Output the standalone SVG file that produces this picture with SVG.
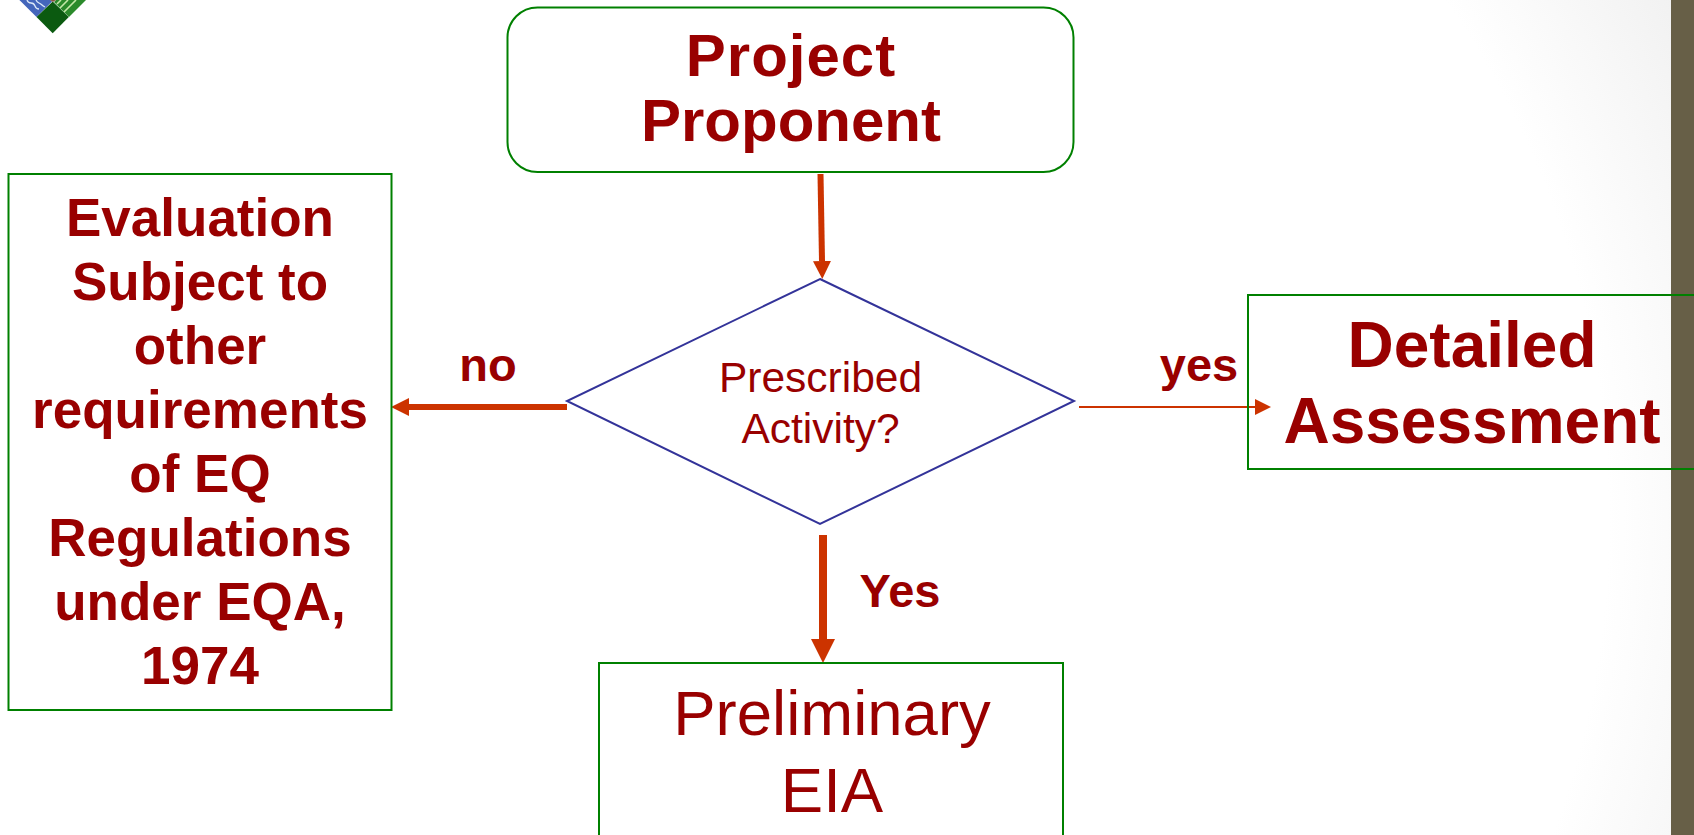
<svg xmlns="http://www.w3.org/2000/svg" width="1694" height="835" viewBox="0 0 1694 835">
<style>
.box{fill:none;stroke:#008000;stroke-width:2}
.t{font-family:"Liberation Sans",Arial,sans-serif;fill:#990000;text-anchor:middle}
.b{font-weight:bold}
.c{fill:none;stroke:#cc3300}
.wave{fill:none;stroke:#dbe8f7;stroke-width:1.3}
.stripe{stroke:#c5e8a8;stroke-width:1.6}
</style>
<defs>
<radialGradient id="bg" gradientUnits="userSpaceOnUse" cx="700" cy="520" r="1150">
<stop offset="0" stop-color="#ffffff"/><stop offset="0.79" stop-color="#ffffff"/><stop offset="1" stop-color="#eeeeee"/>
</radialGradient>
<marker id="head" viewBox="0 0 3 3" refX="0" refY="1.5" markerWidth="3" markerHeight="3" orient="auto"><path d="M0 0L3 1.5L0 3z" fill="#cc3300"/></marker>
<marker id="headThin" viewBox="0 0 8 8" refX="0" refY="4" markerWidth="8" markerHeight="8" orient="auto"><path d="M0 0L8 4L0 8z" fill="#cc3300"/></marker>
</defs>
<rect width="1694" height="835" fill="url(#bg)"/>
<rect x="1671" y="0" width="23" height="835" fill="#675f47"/>
<g id="logo">
<polygon points="19.400,0 36.500,17 52,1.500 50.500,0" fill="#4466bb"/>
<path class="wave" d="M27 0q1 3 4 3t4 3t4 3M36 0q1 2 3 3t3 2t3 2"/>
<polygon points="86,0 69,17 54,2 56,0" fill="#2b8a2b"/>
<path class="stripe" d="M57 4L61 0M60 8L68 0M64 12L76 0"/>
<polygon points="52.700,33.300 36.500,17 52.700,1.500 68.800,17" fill="#0b5a10"/>
<polygon points="50,0 56,0 53,2" fill="#8a5a40"/>
</g>
<g id="connectors">
<line class="c" x1="820.500" y1="174" x2="822" y2="261" stroke-width="6" marker-end="url(#head)"/>
<line class="c" x1="567" y1="407" x2="409" y2="407" stroke-width="6" marker-end="url(#head)"/>
<line class="c" x1="1079" y1="407" x2="1255" y2="407" stroke-width="2" marker-end="url(#headThin)"/>
<line class="c" x1="823" y1="535" x2="823" y2="639" stroke-width="8" marker-end="url(#head)"/>
</g>
<g id="project-proponent">
<rect class="box" x="507.500" y="7.500" width="566" height="164.500" rx="30" ry="30"/>
<text class="t b" x="791" y="76" font-size="60" letter-spacing="1">Project</text>
<text class="t b" x="791" y="141" font-size="60">Proponent</text>
</g>
<g id="evaluation">
<rect class="box" x="8.500" y="174" width="383" height="536"/>
<text class="t b" x="200" y="236" font-size="53">Evaluation</text>
<text class="t b" x="200" y="300" font-size="53">Subject to</text>
<text class="t b" x="200" y="364" font-size="53">other</text>
<text class="t b" x="200" y="428" font-size="53">requirements</text>
<text class="t b" x="200" y="492" font-size="53">of EQ</text>
<text class="t b" x="200" y="556" font-size="53">Regulations</text>
<text class="t b" x="200" y="620" font-size="53">under EQA,</text>
<text class="t b" x="200" y="684" font-size="53">1974</text>
</g>
<g id="decision">
<polygon points="820,279 1074,401 820,524 567,401" fill="none" stroke="#333399" stroke-width="2"/>
<text class="t" x="820.500" y="392" font-size="42.500">Prescribed</text>
<text class="t" x="820.500" y="443" font-size="42.500">Activity?</text>
</g>
<g id="detailed-assessment">
<rect class="box" x="1248" y="295" width="460" height="174"/>
<text class="t b" x="1472" y="367" font-size="64">Detailed</text>
<text class="t b" x="1472" y="443" font-size="64">Assessment</text>
</g>
<g id="preliminary-eia">
<rect class="box" x="599" y="663" width="464" height="200"/>
<text class="t" x="832" y="735" font-size="63.500">Preliminary</text>
<text class="t" x="832" y="812" font-size="63.500">EIA</text>
</g>
<g id="labels">
<text class="t b" x="488" y="381" font-size="47">no</text>
<text class="t b" x="1199" y="381" font-size="47">yes</text>
<text class="t b" x="900" y="607" font-size="47">Yes</text>
</g>
</svg>
